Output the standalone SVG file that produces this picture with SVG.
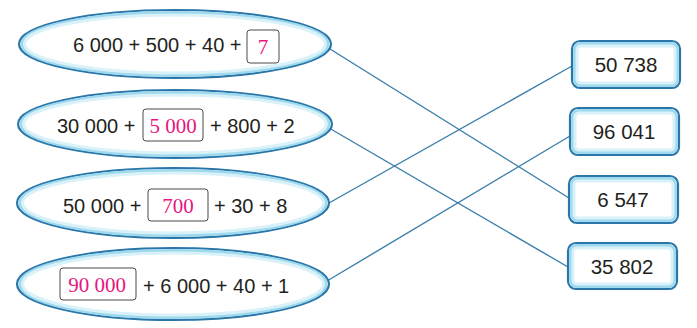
<svg xmlns="http://www.w3.org/2000/svg" width="697" height="328" viewBox="0 0 697 328">
<style>
.glow2{fill:none;stroke:#d9f1f9;stroke-width:3}
.glow1{fill:none;stroke:#9fd9ee;stroke-width:3}
.edge{fill:#ffffff;stroke:#2b76a8;stroke-width:2.2}
.t{font-family:"Liberation Sans",Arial,sans-serif;font-size:20px;fill:#231f20}
.n{font-size:20.5px}
.r{font-family:"Liberation Serif","Times New Roman",serif;font-size:21px;fill:#e8157f}
.box{fill:#ffffff;stroke:#4a4a4a;stroke-width:1}
.conn line{stroke:#3d7fab;stroke-width:1.4}
</style>
<rect width="697" height="328" fill="#ffffff"/>
<g class="conn">
<line x1="330" y1="49" x2="569" y2="198"/>
<line x1="329" y1="128" x2="568" y2="267"/>
<line x1="329" y1="203" x2="572" y2="66"/>
<line x1="327" y1="281" x2="570" y2="136"/>
</g>
<g id="e1">
<ellipse class="edge" cx="175" cy="44" rx="156" ry="34"/>
<ellipse class="glow1" cx="175" cy="44" rx="153" ry="31.5"/>
<ellipse class="glow2" cx="175" cy="44" rx="150.5" ry="29"/>
<text class="t" x="73" y="52">6 000 + 500 + 40 +</text>
<rect class="box" x="247" y="30" width="32" height="33" rx="3"/>
<text class="r" x="263" y="54" text-anchor="middle">7</text>
</g>
<g id="e2">
<ellipse class="edge" cx="175" cy="124" rx="157" ry="34"/>
<ellipse class="glow1" cx="175" cy="124" rx="154" ry="31.5"/>
<ellipse class="glow2" cx="175" cy="124" rx="151.5" ry="29"/>
<text class="t" x="57" y="133">30 000 +</text>
<rect class="box" x="143" y="109" width="60" height="32" rx="3"/>
<text class="r" x="173" y="133" text-anchor="middle">5 000</text>
<text class="t" x="210" y="133">+ 800 + 2</text>
</g>
<g id="e3">
<ellipse class="edge" cx="173" cy="203" rx="156" ry="35"/>
<ellipse class="glow1" cx="173" cy="203" rx="153" ry="32.5"/>
<ellipse class="glow2" cx="173" cy="203" rx="150.5" ry="30"/>
<text class="t" x="63" y="213">50 000 +</text>
<rect class="box" x="148" y="189" width="60" height="32" rx="3"/>
<text class="r" x="178" y="213" text-anchor="middle">700</text>
<text class="t" x="214" y="213">+ 30 + 8</text>
</g>
<g id="e4">
<ellipse class="edge" cx="173" cy="284" rx="156" ry="36"/>
<ellipse class="glow1" cx="173" cy="284" rx="153" ry="33.5"/>
<ellipse class="glow2" cx="173" cy="284" rx="150.5" ry="31"/>
<rect class="box" x="60" y="268" width="76" height="32" rx="3"/>
<text class="r" x="97" y="292" text-anchor="middle">90 000</text>
<text class="t" x="143" y="293">+ 6 000 + 40 + 1</text>
</g>
<g id="b1">
<rect class="edge" x="572" y="41" width="108" height="47" rx="8"/>
<rect class="glow1" x="574.5" y="43.5" width="103" height="42" rx="6"/>
<rect class="glow2" x="577" y="46" width="98" height="37" rx="4"/>
<text class="t n" x="626" y="72" text-anchor="middle">50 738</text>
</g>
<g id="b2">
<rect class="edge" x="570" y="108" width="109" height="47" rx="8"/>
<rect class="glow1" x="572.5" y="110.5" width="104" height="42" rx="6"/>
<rect class="glow2" x="575" y="113" width="99" height="37" rx="4"/>
<text class="t n" x="624" y="139" text-anchor="middle">96 041</text>
</g>
<g id="b3">
<rect class="edge" x="569" y="176" width="109" height="47" rx="8"/>
<rect class="glow1" x="571.5" y="178.5" width="104" height="42" rx="6"/>
<rect class="glow2" x="574" y="181" width="99" height="37" rx="4"/>
<text class="t n" x="623" y="207" text-anchor="middle">6 547</text>
</g>
<g id="b4">
<rect class="edge" x="568" y="243" width="109" height="46" rx="8"/>
<rect class="glow1" x="570.5" y="245.5" width="104" height="41" rx="6"/>
<rect class="glow2" x="573" y="248" width="99" height="36" rx="4"/>
<text class="t n" x="622" y="274" text-anchor="middle">35 802</text>
</g>
</svg>
